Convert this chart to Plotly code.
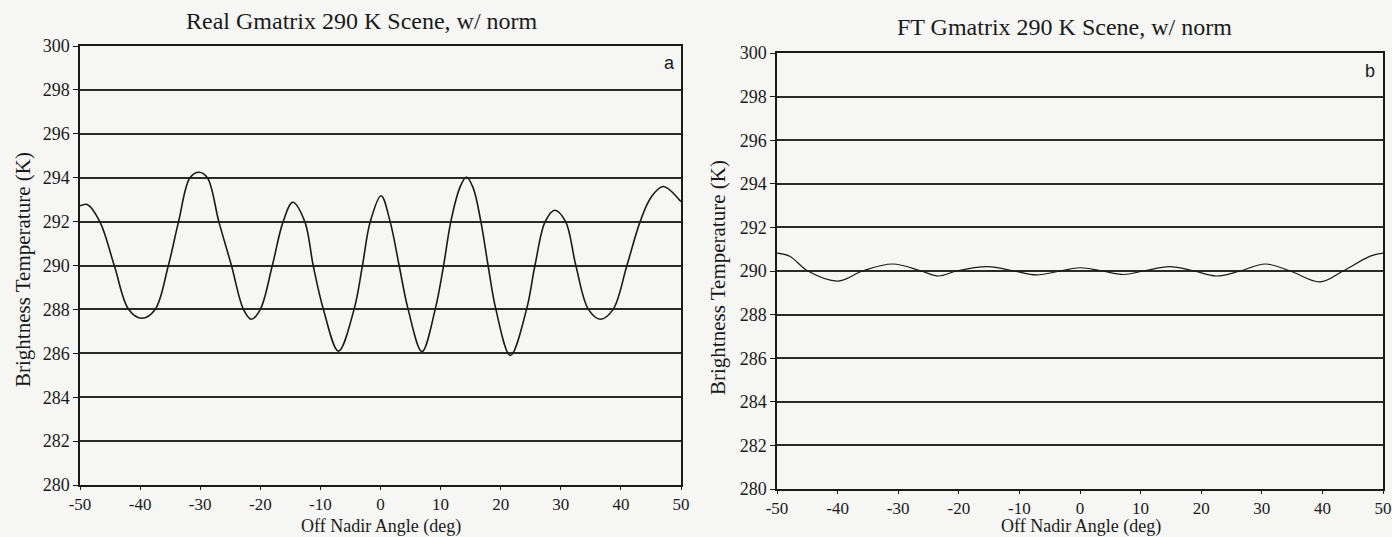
import plotly.graph_objects as go

# ---- data ----
angle_a = [-50, -48.8, -46.7, -44.3, -41.9, -39.7, -37.5, -35.3, -33.6, -31.7, -30.2,
           -28.8, -26.9, -24.8, -22.8, -21.5, -20.0, -18.0, -16.2, -14.6, -12.6,
           -11.2, -9.5, -7.0, -4.4, -3.0, -1.7, 0.1, 1.6, 3.1, 4.6, 6.9, 9.1,
           10.5, 11.7, 13.2, 14.3, 15.4, 16.7, 17.9, 19.2, 21.6, 24.3, 25.7,
           27.4, 29.0, 30.8, 32.5, 34.6, 36.6, 38.7, 41.0, 43.2, 45.0, 47.0, 50]
temp_a = [292.72, 292.78, 292.0, 290.0, 288.0, 287.6, 288.0, 290.0, 292.0, 294.0, 294.25,
          294.0, 292.0, 290.0, 288.0, 287.55, 288.0, 290.0, 292.0, 292.88, 292.0,
          290.0, 288.0, 286.1, 288.0, 290.0, 292.0, 293.18, 292.0, 290.0, 288.0, 286.08, 288.0,
          290.0, 292.0, 293.55, 294.03, 293.55, 292.0, 290.0, 288.0, 285.9, 288.0, 290.0,
          292.0, 292.52, 292.0, 290.0, 288.0, 287.55, 288.0, 290.0, 292.0, 293.1, 293.6, 292.9]

angle_b = [-50, -47.9, -44.9, -39.9, -35.9, -30.9, -26.2, -23.3, -20.4, -15.2, -10.9,
           -7.2, -3.2, 0.0, 3.6, 7.2, 10.5, 14.8, 18.8, 22.5, 26.4, 30.6, 34.7,
           39.6, 43.4, 47.9, 50]
temp_b = [290.82, 290.68, 290.0, 289.54, 290.0, 290.32, 290.0, 289.77, 290.0, 290.2, 290.0,
          289.82, 290.0, 290.15, 290.0, 289.84, 290.0, 290.2, 290.0, 289.77, 290.0, 290.32, 290.0,
          289.5, 290.0, 290.68, 290.82]

x_ticks = [-50, -40, -30, -20, -10, 0, 10, 20, 30, 40, 50]
x_tick_text = ["-50", "-40", "-30", "-20", "-10", "0", "10", "20", "30", "40", "50"]
y_ticks = [280, 282, 284, 286, 288, 290, 292, 294, 296, 298, 300]

titles = ["Real Gmatrix 290 K Scene, w/ norm", "FT Gmatrix 290 K Scene, w/ norm"]
panel_labels = ["a", "b"]
x_title = "Off Nadir Angle (deg)"
y_title = "Brightness Temperature (K)"

W, H = 1392, 537
SERIF = "Liberation Serif, Times New Roman, serif"
INK = "#1a1a1a"
BG = "#f6f6f4"

fig = go.Figure()
fig.add_trace(go.Scatter(x=angle_a, y=temp_a, mode="lines", xaxis="x", yaxis="y",
                         line=dict(color=INK, width=1.6, shape="spline", smoothing=1.0),
                         showlegend=False))
fig.add_trace(go.Scatter(x=angle_b, y=temp_b, mode="lines", xaxis="x2", yaxis="y2",
                         line=dict(color=INK, width=1.2, shape="spline", smoothing=1.0),
                         showlegend=False))

# pixel geometry -> paper domains
def xd(a, b):
    return [a / W, b / W]

def yd(top, bottom):
    return [1 - bottom / H, 1 - top / H]

common_x = dict(range=[-50, 50], tickvals=x_ticks, ticktext=x_tick_text, showgrid=False,
                zeroline=False, automargin=False, ticklabeloverflow="allow",
                showline=True, linecolor=INK, linewidth=1.5, mirror=True,
                ticks="outside", ticklen=3, tickcolor=INK, tickwidth=1.2,
                tickfont=dict(family=SERIF, size=17, color=INK))
common_y = dict(range=[280, 300], tickvals=y_ticks, showgrid=True, gridcolor="#2a2a2a",
                gridwidth=1.6, zeroline=False, showline=True, linecolor=INK, automargin=False,
                linewidth=1.5, mirror=True, ticks="outside", ticklen=5, tickcolor=INK,
                tickwidth=1.2, tickfont=dict(family=SERIF, size=18, color=INK))

fig.update_layout(
    width=W, height=H, autosize=False,
    margin=dict(l=0, r=0, t=0, b=0, pad=0),
    paper_bgcolor=BG, plot_bgcolor=BG,
    xaxis=dict(domain=xd(80, 681), anchor="y", **common_x),
    yaxis=dict(domain=yd(46, 485), anchor="x", **common_y),
    xaxis2=dict(domain=xd(777, 1383), anchor="y2", **common_x),
    yaxis2=dict(domain=yd(53, 489), anchor="x2", **common_y),
)

annotations = []
# titles
for txt, xc, yc in [(titles[0], 362, 21), (titles[1], 1064, 27)]:
    annotations.append(dict(text=txt, x=xc / W, y=1 - yc / H, xref="paper", yref="paper",
                            showarrow=False, xanchor="center", yanchor="middle",
                            font=dict(family=SERIF, size=24, color=INK)))
# x titles
for xc in (381, 1081):
    annotations.append(dict(text=x_title, x=xc / W, y=1 - 526 / H, xref="paper", yref="paper",
                            showarrow=False, xanchor="center", yanchor="middle",
                            font=dict(family=SERIF, size=18, color=INK)))
# y titles
for xc, yc in ((23, 270), (718, 278)):
    annotations.append(dict(text=y_title, x=xc / W, y=1 - yc / H, xref="paper", yref="paper",
                            showarrow=False, xanchor="center", yanchor="middle", textangle=-90,
                            font=dict(family=SERIF, size=21, color=INK)))
# panel letters
for lab, xc, yc in ((panel_labels[0], 669, 63), (panel_labels[1], 1370, 71)):
    annotations.append(dict(text=lab, x=xc / W, y=1 - yc / H, xref="paper", yref="paper",
                            showarrow=False, xanchor="center", yanchor="middle",
                            font=dict(family="Liberation Sans, Arial, sans-serif", size=18, color=INK)))
fig.update_layout(annotations=annotations)

fig.write_html("out.html", config={"displayModeBar": False},
               post_script="document.body.style.margin='0';document.body.style.overflow='hidden';")
